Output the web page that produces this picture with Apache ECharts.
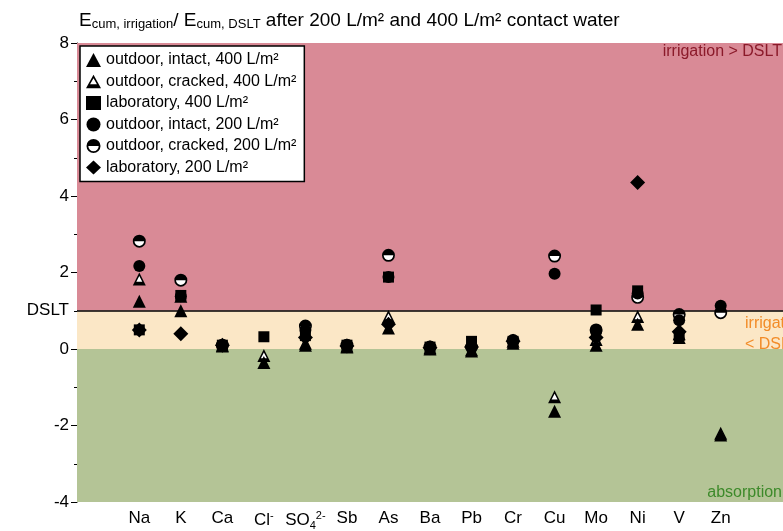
<!DOCTYPE html>
<html>
<head>
<meta charset="utf-8">
<script src="https://cdn.jsdelivr.net/npm/echarts@6/dist/echarts.min.js"></script>
<style>html,body{margin:0;padding:0;background:#fff}#chart{width:783px;height:531px}</style>
</head>
<body>
<div id="chart"></div>
<script>
// categories (empty slots at both ends)
const elements = ['', 'Na', 'K', 'Ca', 'Cl', 'SO4', 'Sb', 'As', 'Ba', 'Pb', 'Cr', 'Cu', 'Mo', 'Ni', 'V', 'Zn', ''];
const els = elements.slice(1, 16);
// values per series, same order as els
const intact400  = [1.25, 1.0, 0.1, -0.35, 0.1, 0.05, 0.55, 0.0, -0.05, 0.15, -1.63, 0.1, 0.65, 0.3, -2.25];
const cracked400 = [1.83, 1.38, 0.08, -0.17, 0.15, 0.08, 0.85, 0.03, -0.02, 0.2, -1.25, 0.25, 0.85, 0.4, -2.2];
const lab400     = [0.5, 1.4, 0.1, 0.32, 0.35, 0.1, 1.88, 0.05, 0.2, 0.2, null, 1.02, 1.52, 0.35, null];
const intact200  = [2.17, 1.38, 0.1, null, 0.5, 0.1, 1.88, 0.05, 0.05, 0.22, 1.97, 0.45, 1.45, 0.75, 1.13];
const cracked200 = [2.82, 1.8, 0.1, null, 0.6, 0.1, 2.45, 0.05, 0.05, 0.22, 2.43, 0.5, 1.35, 0.9, 0.95];
const lab200     = [0.5, 0.4, 0.1, null, 0.3, 0.08, 0.65, 0.03, 0.05, 0.2, null, 0.3, 4.35, 0.45, null];
const yTicks = [-4, -2, 0, 2, 4, 6, 8];

const names = ['outdoor, intact, 400 L/m²', 'outdoor, cracked, 400 L/m²', 'laboratory, 400 L/m²',
  'outdoor, intact, 200 L/m²', 'outdoor, cracked, 200 L/m²', 'laboratory, 200 L/m²'];

const halfTri = 'path://M5,0 L10,9 L0,9 Z M5,2.4 L2.7,6.4 L7.3,6.4 Z';
const halfCirc = 'path://M5,0 A5,5 0 1,1 5,10 A5,5 0 1,1 5,0 Z M1.3,5 A3.7,3.7 0 0,0 8.7,5 L1.3,5 Z';

const pts = arr => els.map((e, i) => [e, arr[i]]).filter(p => p[1] !== null);

function sc(name, data, symbol, size, z) {
  return { name: name, type: 'scatter', data: pts(data), symbol: symbol, symbolSize: size,
    itemStyle: { color: '#000', opacity: 1 }, z: z || 3 };
}

const chart = echarts.init(document.getElementById('chart'));
chart.setOption({
  animation: false,
  textStyle: { fontFamily: 'Arial, Liberation Sans, sans-serif' },
  title: {
    text: 'E{s|cum, irrigation}/ E{s|cum, DSLT} after 200 L/m² and 400 L/m² contact water',
    left: 74, top: 5,
    textStyle: { fontSize: 19, fontWeight: 'normal', color: '#000',
      rich: { s: { fontSize: 13, verticalAlign: 'bottom', padding: [8, 0, 0, 0] } } }
  },
  grid: { left: 77, right: 0, top: 43, bottom: 29 },
  legend: {
    orient: 'vertical', left: 80, top: 46, data: names,
    backgroundColor: '#fff', borderColor: '#000', borderWidth: 1.5, padding: [6, 8, 6, 6],
    itemGap: 5.5, itemWidth: 15, itemHeight: 14,
    textStyle: { fontSize: 16, color: '#000' }
  },
  xAxis: {
    type: 'category', data: elements,
    axisLine: { lineStyle: { color: '#000' } },
    axisTick: { show: false },
    axisLabel: {
      fontSize: 17, color: '#000', margin: 8, interval: 0,
      formatter: v => v === 'Cl' ? 'Cl{sup|-}' : v === 'SO4' ? 'SO{sub|4}{sup|2-}' : v,
      rich: { sup: { fontSize: 11, verticalAlign: 'top', padding: [0, 0, 10, 0] },
              sub: { fontSize: 11, verticalAlign: 'bottom', padding: [8, 0, 0, 0] } }
    }
  },
  yAxis: {
    type: 'value', min: -4, max: 8, interval: 2,
    axisLine: { show: true, lineStyle: { color: '#000' } },
    axisTick: { show: true, inside: false, length: 6, lineStyle: { color: '#000' } },
    minorTick: { show: true, splitNumber: 2, length: 3, lineStyle: { color: '#000' } },
    splitLine: { show: false },
    axisLabel: { fontSize: 17, color: '#000', formatter: v => yTicks.includes(v) ? String(v) : '' }
  },
  series: [
    {
      type: 'line', data: [], silent: true,
      markArea: {
        silent: true,
        data: [
          [{ yAxis: 1, itemStyle: { color: '#d98a96', opacity: 1 },
             label: { show: true, position: 'insideTopRight', color: '#8b1a2a', fontSize: 16, offset: [4, -4], formatter: 'irrigation > DSLT' } },
           { yAxis: 8 }],
          [{ yAxis: 0, itemStyle: { color: '#fbe7c6', opacity: 1 },
             label: { show: true, position: [668, 2], color: '#f28c28', fontSize: 16, lineHeight: 21, formatter: 'irrigation\n< DSLT' } },
           { yAxis: 1 }],
          [{ yAxis: -4, itemStyle: { color: '#b4c496', opacity: 1 },
             label: { show: true, position: 'insideBottomRight', color: '#3d8a2a', fontSize: 16, offset: [4, 4], formatter: 'absorption' } },
           { yAxis: 0 }]
        ]
      },
      markLine: {
        silent: true, symbol: 'none',
        lineStyle: { color: '#000', type: 'solid', width: 1.5 },
        label: { position: 'start', color: '#000', fontSize: 17, distance: 8, formatter: 'DSLT' },
        data: [{ yAxis: 1 }]
      }
    },
    // white underlays for half-filled markers
    { type: 'scatter', data: pts(cracked400), symbol: 'triangle', symbolSize: 11, itemStyle: { color: '#fff', opacity: 1 }, z: 2, silent: true },
    { type: 'scatter', data: pts(cracked200), symbol: 'circle', symbolSize: 12, itemStyle: { color: '#fff', opacity: 1 }, z: 2, silent: true },
    sc(names[5], lab200, 'diamond', 15),
    sc(names[3], intact200, 'circle', 12),
    sc(names[2], lab400, 'rect', 11),
    sc(names[0], intact400, 'triangle', 13),
    sc(names[4], cracked200, halfCirc, 13, 4),
    sc(names[1], cracked400, halfTri, 13, 4)
  ]
});
</script>
</body>
</html>
